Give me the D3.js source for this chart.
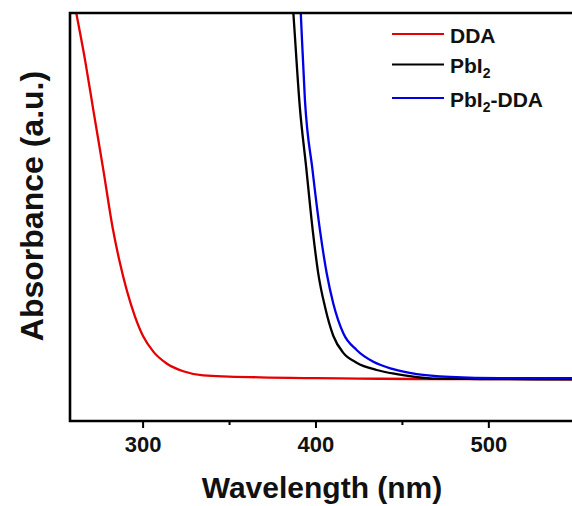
<!DOCTYPE html>
<html>
<head>
<meta charset="utf-8">
<script src="https://cdn.jsdelivr.net/npm/d3@7"></script>
<style>
  body { margin: 0; background: #fff; }
  svg { display: block; font-family: "Liberation Sans", Arial, sans-serif; font-weight: bold; }
</style>
</head>
<body>
<svg class="uv_chart" width="572" height="506"></svg>
<script>
// wavelength (nm) / absorbance (a.u.)
var wlDDA  = [258, 261.5, 266.7, 271.5, 277.3, 282.7, 286.9, 290.8, 295.6, 300.4, 306.2, 313.9, 323.5, 335.1, 368, 400, 425, 460, 500, 548.4];
var absDDA = [1.083, 1.003, 0.885, 0.762, 0.615, 0.473, 0.387, 0.321, 0.256, 0.207, 0.170, 0.141, 0.122, 0.112, 0.107, 0.105, 0.104, 0.103, 0.103, 0.102];

var wlPbI2  = [385, 387.2, 391.0, 394.5, 398.4, 401.6, 405.5, 410.3, 416.1, 423.8, 435.4, 447.0, 456.6, 468, 495.2, 548.4];
var absPbI2 = [1.13, 1.0, 0.767, 0.627, 0.468, 0.362, 0.280, 0.209, 0.167, 0.143, 0.125, 0.115, 0.109, 0.104, 0.103, 0.102];

var wlMix  = [389.5, 391.5, 393.9, 398.3, 402.6, 406.5, 410.3, 416.1, 423.8, 433.5, 445.0, 458.6, 477.8, 506.7, 548.4];
var absMix = [1.18, 1.0, 0.787, 0.615, 0.468, 0.362, 0.288, 0.215, 0.174, 0.145, 0.127, 0.115, 0.108, 0.105, 0.105];

var majorTicks = [300, 400, 500];
var minorTicks = [350, 450];

var svg = d3.select(".uv_chart");
var margin = { top: 13, right: 0, bottom: 85, left: 70 };
var width = +svg.attr("width") - margin.left - margin.right;
var height = +svg.attr("height") - margin.top - margin.bottom;
var g = svg.append("g").attr("transform", "translate(" + margin.left + "," + margin.top + ")");

var x = d3.scaleLinear().domain([258, 548.4]).range([0, width]);
var y = d3.scaleLinear().domain([0, 1]).range([height, 0]);

var series = [
	{ name: ["DDA"], color: "#e60000", values: wlDDA.map((w, i) => ({ wl: w, a: absDDA[i] })) },
	{ name: ["PbI", "2"], color: "#000000", values: wlPbI2.map((w, i) => ({ wl: w, a: absPbI2[i] })) },
	{ name: ["PbI", "2", "-DDA"], color: "#0000e6", values: wlMix.map((w, i) => ({ wl: w, a: absMix[i] })) }
];

g.append("clipPath").attr("id", "clip")
	.append("rect").attr("width", width + 5).attr("height", height);

var line = d3.line()
	.curve(d3.curveMonotoneX)
	.x((d) => { return x(d.wl); })
	.y((d) => { return y(d.a); });

g.append("g").attr("clip-path", "url(#clip)")
	.selectAll("path")
	.data(series)
	.enter().append("path")
		.attr("fill", "none")
		.attr("stroke", (d) => { return d.color; })
		.attr("stroke-width", 2.3)
		.attr("d", (d) => { return line(d.values); });

// frame: left, top, bottom (right edge runs off the picture)
g.append("path")
	.attr("fill", "none")
	.attr("stroke", "#000")
	.attr("stroke-width", 2.6)
	.attr("d", "M" + (width + 5) + ",0H0V" + height + "H" + (width + 5));

// x axis
var xAxis = g.append("g").attr("transform", "translate(0," + height + ")");
xAxis.call(d3.axisBottom(x).tickValues(majorTicks).tickSize(7).tickPadding(8));
xAxis.select(".domain").remove();
xAxis.selectAll(".tick line").attr("stroke-width", 2);
xAxis.selectAll(".tick text")
	.attr("font-size", 22)
	.attr("font-family", "'Liberation Sans', Arial, sans-serif")
	.attr("font-weight", "bold")
	.attr("fill", "#111");

var xMinor = g.append("g").attr("transform", "translate(0," + height + ")");
xMinor.call(d3.axisBottom(x).tickValues(minorTicks).tickSize(4).tickFormat(""));
xMinor.select(".domain").remove();
xMinor.selectAll(".tick line").attr("stroke-width", 2);

svg.append("text")
	.attr("x", 322)
	.attr("y", 498)
	.attr("text-anchor", "middle")
	.attr("font-size", 30)
	.attr("fill", "#111")
	.text("Wavelength (nm)");

svg.append("text")
	.attr("transform", "translate(43,206) rotate(-90)")
	.attr("text-anchor", "middle")
	.attr("font-size", 32)
	.attr("fill", "#111")
	.text("Absorbance (a.u.)");

// legend
var rowY = [34, 64.5, 98];
var legend = svg.selectAll(".legend")
	.data(series)
	.enter().append("g")
		.attr("class", "legend")
		.attr("transform", (d, i) => { return "translate(392," + rowY[i] + ")"; });

legend.append("line")
	.attr("x1", 0).attr("x2", 52)
	.attr("stroke", (d) => { return d.color; })
	.attr("stroke-width", 2);

legend.append("text")
	.attr("x", 58)
	.attr("y", 8.5)
	.attr("font-size", 21)
	.attr("fill", "#111")
	.each(function (d) {
		var t = d3.select(this);
		d.name.forEach((part, k) => {
			var sp = t.append("tspan").text(part);
			if (k === 1) sp.attr("font-size", 14).attr("dy", 5);
			if (k === 2) sp.attr("dy", -5);
		});
	});
</script>
</body>
</html>
